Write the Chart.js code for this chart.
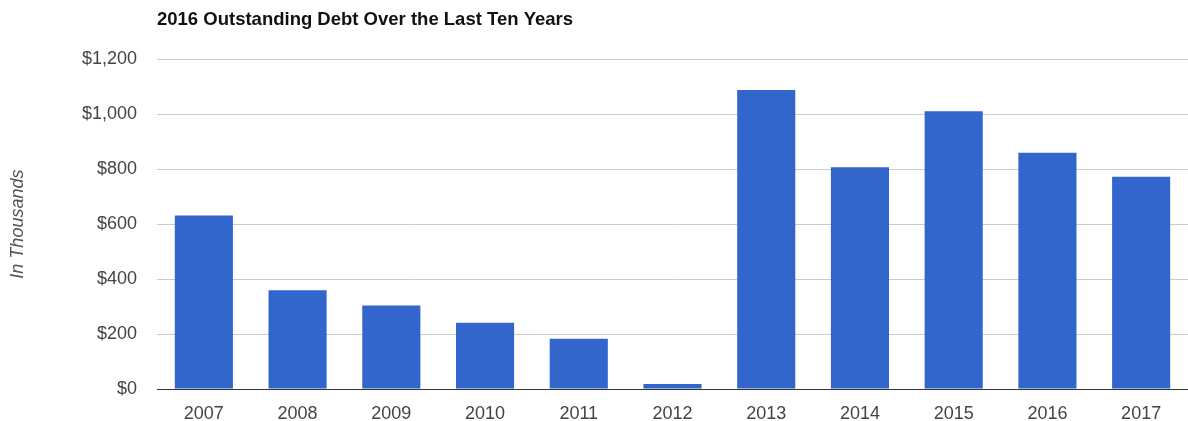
<!DOCTYPE html>
<html>
<head>
<meta charset="utf-8">
<script src="https://cdn.jsdelivr.net/npm/chart.js@4"></script>
<style>
  body { margin: 0; background: #fff; }
</style>
</head>
<body>
<canvas id="debtChart" width="1188" height="421"></canvas>
<script>
// data (values in thousands of dollars)
const years = ['2007', '2008', '2009', '2010', '2011', '2012', '2013', '2014', '2015', '2016', '2017'];
const debt = [631, 359, 304, 241, 183, 18, 1088, 807, 1011, 860, 772];
const yTicks = [0, 200, 400, 600, 800, 1000, 1200];
const yTickLabels = ['$0', '$200', '$400', '$600', '$800', '$1,000', '$1,200'];

const FONT = "'Liberation Sans', Arial, sans-serif";

const ctx = document.getElementById('debtChart').getContext('2d');
const chart = new Chart(ctx, {
    type: 'bar',
    data: {
        labels: years,
        datasets: [{
            label: 'Outstanding Debt',
            data: debt,
            backgroundColor: '#3366cc',
            borderWidth: 0,
            categoryPercentage: 1,
            barPercentage: 0.62
        }]
    },
    options: {
        responsive: false,
        animation: false,
        layout: { padding: 0 },
        plugins: {
            legend: { display: false },
            tooltip: { enabled: false },
            title: {
                display: true,
                text: '2016 Outstanding Debt Over the Last Ten Years',
                align: 'start',
                fullSize: false,
                color: '#111',
                font: { family: FONT, size: 18.5, weight: 'bold', lineHeight: 1.2 },
                padding: { top: 9, bottom: 28 }
            }
        },
        scales: {
            x: {
                grid: { display: false },
                border: { display: true, color: '#333', width: 1 },
                ticks: {
                    color: '#444',
                    padding: 6,
                    font: { family: FONT, size: 18 }
                },
                afterFit: function(scale) { scale.height = 32; }
            },
            y: {
                min: 0,
                max: 1200,
                afterBuildTicks: function(scale) {
                    scale.ticks = yTicks.map(v => ({ value: v }));
                },
                grid: {
                    drawTicks: false,
                    color: c => (c.tick && c.tick.value === 0) ? '#333' : '#cccccc',
                    lineWidth: 1
                },
                border: { display: false },
                ticks: {
                    color: '#444',
                    padding: 20,
                    font: { family: FONT, size: 18 },
                    callback: function(value) {
                        return yTickLabels[yTicks.indexOf(value)];
                    }
                },
                title: {
                    display: true,
                    text: 'In Thousands',
                    color: '#555',
                    padding: { top: 7, bottom: 0 },
                    font: { family: FONT, size: 18, style: 'italic' }
                },
                afterFit: function(scale) { scale.width = 157; }
            }
        }
    }
});
</script>
</body>
</html>
